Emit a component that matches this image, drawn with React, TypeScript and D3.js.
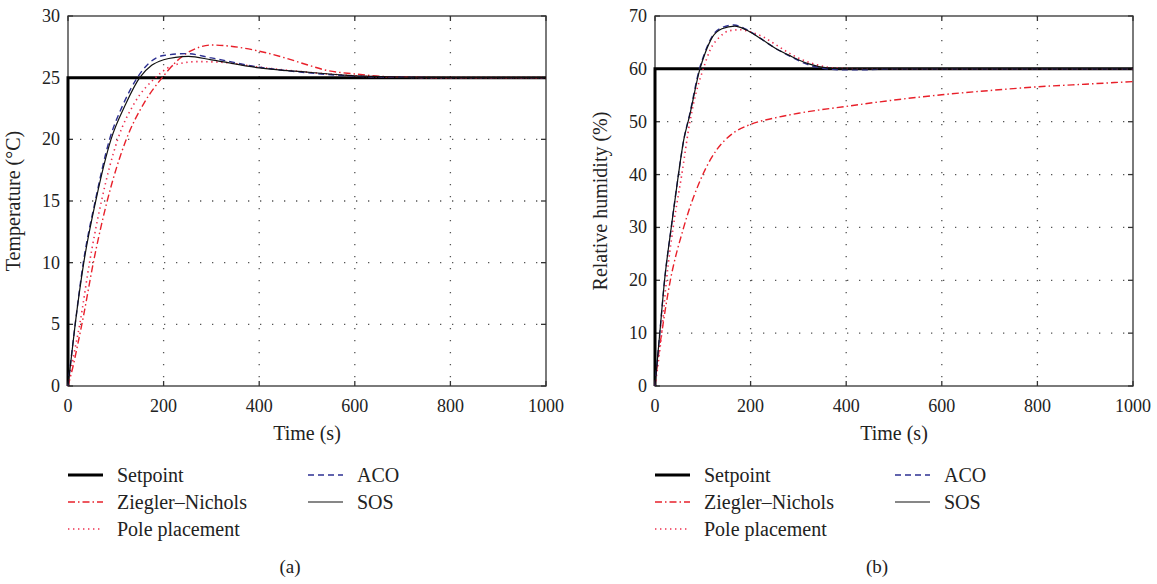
import React from "react";
import * as d3 from "d3";

// readings, [time (s), value]
const timeTicks = [0, 200, 400, 600, 800, 1000];
const tempTicks = [0, 5, 10, 15, 20, 25, 30];
const humTicks = [0, 10, 20, 30, 40, 50, 60, 70];

const tempSetpoint = [[0, 0], [0, 25], [1000, 25]];
const tempZN = [[0, 0], [10, 1.5], [20, 3.3], [33, 5.8], [53, 10], [82, 15], [120, 19.8], [160, 23], [197, 25], [235, 26.6], [277, 27.5], [300, 27.65], [340, 27.55], [400, 27.15], [450, 26.65], [500, 26.05], [540, 25.6], [600, 25.3], [650, 25.12], [700, 25.04], [800, 25], [1000, 25]];
const tempPole = [[0, 0], [12, 2.5], [25, 5.1], [45, 10], [70, 15], [104, 20], [140, 23], [183, 25], [205, 25.7], [235, 26.15], [270, 26.3], [320, 26.25], [400, 25.85], [500, 25.45], [600, 25.15], [700, 25.04], [800, 25], [1000, 25]];
const tempACO = [[0, 0], [15, 5], [32, 10], [57, 15], [87, 20], [115, 22.8], [145, 25], [170, 26.2], [200, 26.8], [248, 26.95], [300, 26.6], [400, 25.85], [500, 25.4], [600, 25.12], [700, 25.03], [800, 25], [1000, 25]];
const tempSOS = [[0, 0], [15, 5], [33, 10], [58, 15], [90, 20], [120, 22.8], [150, 25], [175, 26], [200, 26.45], [225, 26.65], [252, 26.72], [300, 26.45], [400, 25.8], [500, 25.45], [600, 25.15], [700, 25.05], [800, 25.01], [1000, 25]];

const humSetpoint = [[0, 0], [0, 60], [1000, 60]];
const humZN = [[0, 0], [6, 5], [14, 10], [30, 19], [60, 30], [100, 40], [130, 44.8], [160, 47.6], [200, 49.5], [250, 50.7], [300, 51.6], [400, 52.9], [500, 54.1], [600, 55.1], [700, 55.9], [800, 56.6], [900, 57.1], [1000, 57.6]];
const humPole = [[0, 0], [14, 10], [24, 20], [38, 30], [56, 40], [73, 50], [86, 55.5], [101, 60], [115, 63.5], [135, 66], [155, 67.2], [178, 67.4], [200, 67], [227, 66], [254, 64.5], [290, 62.5], [330, 61], [387, 60.1], [450, 60], [1000, 60]];
const humACO = [[0, 0], [10, 10], [20, 20], [34, 30], [49, 40], [60, 46.5], [72, 51.2], [93, 60], [104, 63], [120, 66.2], [140, 67.8], [165, 68.3], [190, 67.5], [220, 65.8], [250, 64], [282, 62.4], [320, 60.8], [360, 60], [400, 59.8], [450, 59.85], [500, 60], [1000, 60]];
const humSOS = [[0, 0], [10, 10], [20, 20], [34, 30], [49, 40], [60, 46.5], [72, 51], [94, 60], [105, 63], [120, 66], [140, 67.6], [167, 68.1], [190, 67.4], [220, 65.8], [250, 64], [282, 62.5], [320, 61], [360, 60.2], [400, 60], [1000, 60]];

const legendNames = ["Setpoint", "Ziegler\u2013Nichols", "Pole placement", "ACO", "SOS"];

const styles = [
  { stroke: "#000", width: 3, dash: undefined, linear: true },
  { stroke: "#e8202a", width: 1.4, dash: "7 3 1.5 3", linear: false },
  { stroke: "#ee2f4f", width: 1.6, dash: "1.4 3.6", linear: false },
  { stroke: "#2e3192", width: 1.4, dash: "6 4", linear: false },
  { stroke: "#111", width: 1.2, dash: undefined, linear: false },
];

const font = "Liberation Serif, Times New Roman, serif";

function Panel({ left, series, yTicks, yLabel, tag, id }) {
  const top = 16, bottom = 386, width = 478;
  const x = d3.scaleLinear().domain([0, 1000]).range([left, left + width]);
  const y = d3.scaleLinear().domain([yTicks[0], yTicks[yTicks.length - 1]]).range([bottom, top]);
  const gridColor = "#555";
  const boxColor = "#333";

  return (
    <g>
      <defs>
        <clipPath id={id}>
          <rect x={left - 2} y={top - 2} width={width + 4} height={bottom - top + 4} />
        </clipPath>
      </defs>
      {/* grid */}
      {timeTicks.slice(1, -1).map(t => (
        <line key={"gx" + t} x1={x(t)} x2={x(t)} y1={top} y2={bottom} stroke={gridColor} strokeWidth={1.3} strokeDasharray="1.3 10.7" />
      ))}
      {yTicks.slice(1, -1).map(v => (
        <line key={"gy" + v} x1={left} x2={left + width} y1={y(v)} y2={y(v)} stroke={gridColor} strokeWidth={1.3} strokeDasharray="1.3 10.7" />
      ))}
      {/* box */}
      <rect x={left} y={top} width={width} height={bottom - top} fill="none" stroke={boxColor} strokeWidth={1.3} />
      {/* ticks inward */}
      {timeTicks.map(t => (
        <g key={"tx" + t}>
          <line x1={x(t)} x2={x(t)} y1={bottom} y2={bottom - 5} stroke={boxColor} strokeWidth={1.3} />
          <line x1={x(t)} x2={x(t)} y1={top} y2={top + 5} stroke={boxColor} strokeWidth={1.3} />
          <text x={x(t)} y={412} textAnchor="middle" fontSize={18} fontFamily={font} fill="#222">{t}</text>
        </g>
      ))}
      {yTicks.map(v => (
        <g key={"ty" + v}>
          <line x1={left} x2={left + 5} y1={y(v)} y2={y(v)} stroke={boxColor} strokeWidth={1.3} />
          <line x1={left + width} x2={left + width - 5} y1={y(v)} y2={y(v)} stroke={boxColor} strokeWidth={1.3} />
          <text x={left - 8} y={y(v) + 6} textAnchor="end" fontSize={18} fontFamily={font} fill="#222">{v}</text>
        </g>
      ))}
      {/* curves */}
      <g clipPath={`url(#${id})`}>
        {series.map((s, i) => {
          const st = styles[i];
          const line = d3.line().x(d => x(d[0])).y(d => y(d[1])).curve(st.linear ? d3.curveLinear : d3.curveMonotoneX);
          return <path key={i} d={line(s)} fill="none" stroke={st.stroke} strokeWidth={st.width} strokeDasharray={st.dash} />;
        })}
      </g>
      {/* axis titles */}
      <text x={left + width / 2} y={440} textAnchor="middle" fontSize={20} fontFamily={font} fill="#222">Time (s)</text>
      <text transform={`translate(${left - 48}, ${(top + bottom) / 2}) rotate(-90)`} textAnchor="middle" fontSize={20} fontFamily={font} fill="#222">{yLabel}</text>
      {/* legend */}
      {legendNames.map((name, i) => {
        const col = i < 3 ? 0 : 1;
        const row = i < 3 ? i : i - 3;
        const lx = left + col * 240;
        const ly = 475 + row * 27;
        const st = styles[i];
        return (
          <g key={name}>
            <line x1={lx} x2={lx + 35} y1={ly} y2={ly} stroke={st.stroke} strokeWidth={i === 0 ? 3 : st.width} strokeDasharray={st.dash} />
            <text x={lx + 49} y={ly + 7} fontSize={20} fontFamily={font} fill="#222">{name}</text>
          </g>
        );
      })}
      <text x={left + 222} y={573} textAnchor="middle" fontSize={19} fontFamily={font} fill="#222">{tag}</text>
    </g>
  );
}

export default function App() {
  return (
    <svg width={1157} height={584} style={{ position: "absolute", left: 0, top: 0, background: "#fff" }}>
      <Panel id="clipA" left={68} series={[tempSetpoint, tempZN, tempPole, tempACO, tempSOS]} yTicks={tempTicks} yLabel="Temperature (°C)" tag="(a)" />
      <Panel id="clipB" left={655} series={[humSetpoint, humZN, humPole, humACO, humSOS]} yTicks={humTicks} yLabel="Relative humidity (%)" tag="(b)" />
    </svg>
  );
}
